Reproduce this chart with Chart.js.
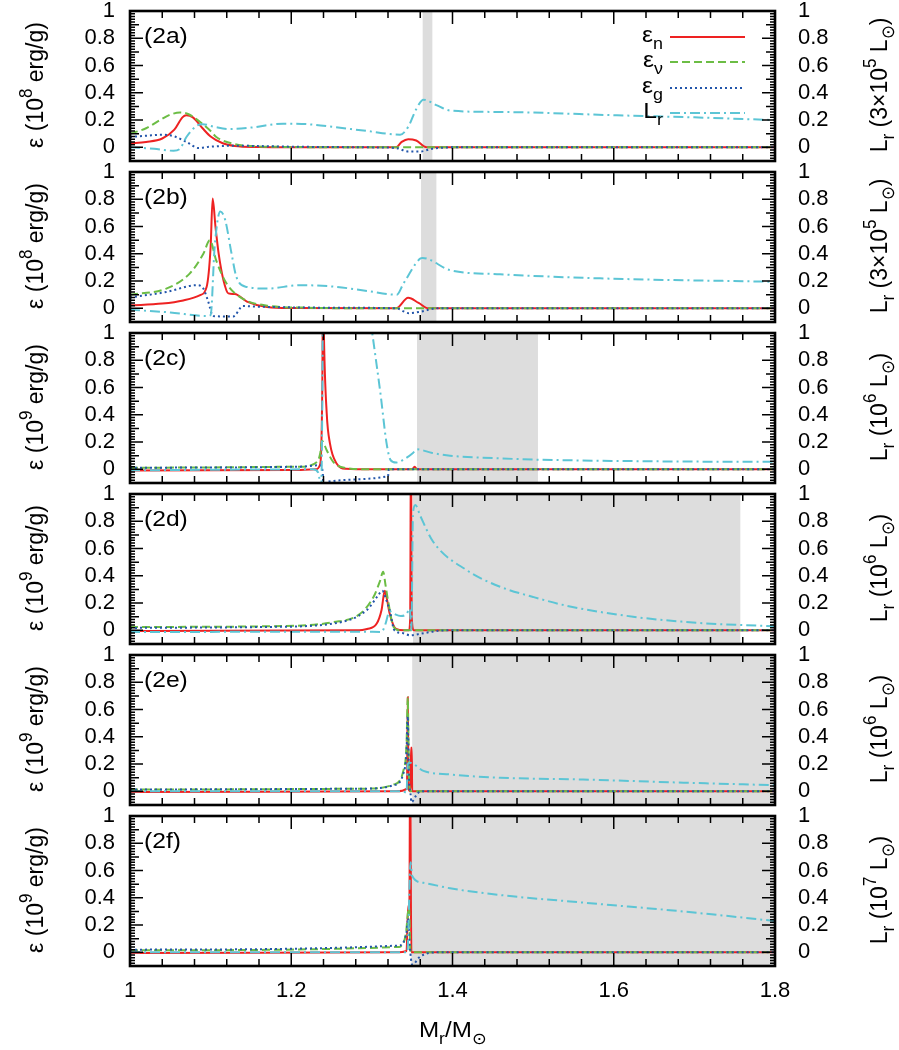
<!DOCTYPE html>
<html>
<head>
<meta charset="utf-8">
<script src="https://cdn.jsdelivr.net/npm/chart.js@4"></script>
<style>
  html, body { margin: 0; padding: 0; background: #fff; }
  #wrap { position: relative; width: 899px; height: 1050px; overflow: hidden; background: #fff; }
  #wrap canvas { position: absolute; left: 0; }
</style>
</head>
<body>
<div id="wrap"></div>
<script>
// ----- Data (x = Mr/Msun, y = value)
const en2a  = [[1.0,0.03],[1.02,0.04],[1.04,0.065],[1.055,0.13],[1.065,0.22],[1.07,0.235],[1.078,0.22],[1.09,0.14],[1.10,0.08],[1.115,0.03],[1.13,0.01],[1.16,0.002],[1.2,0],[1.33,0],[1.337,0.04],[1.345,0.06],[1.355,0.05],[1.368,0],[1.8,0]];
const env2a = [[1.0,0.10],[1.02,0.14],[1.037,0.2],[1.05,0.24],[1.062,0.255],[1.072,0.245],[1.087,0.186],[1.1,0.12],[1.107,0.076],[1.128,0.027],[1.15,0.01],[1.2,0.003],[1.3,0],[1.8,0]];
const eg2a  = [[1.0,0.076],[1.02,0.085],[1.041,0.093],[1.055,0.08],[1.07,0.04],[1.085,-0.005],[1.1,0.005],[1.13,0.012],[1.2,0.005],[1.3,0],[1.33,-0.005],[1.345,-0.03],[1.36,-0.03],[1.375,-0.01],[1.4,0],[1.8,0]];
const lr2a  = [[1.0,0],[1.03,-0.01],[1.054,-0.025],[1.062,-0.01],[1.07,0.076],[1.083,0.16],[1.09,0.17],[1.105,0.15],[1.122,0.135],[1.15,0.145],[1.19,0.174],[1.22,0.17],[1.252,0.15],[1.294,0.12],[1.335,0.093],[1.345,0.15],[1.355,0.28],[1.364,0.35],[1.38,0.31],[1.397,0.27],[1.45,0.26],[1.5,0.255],[1.604,0.235],[1.7,0.22],[1.8,0.20]];

const en2b  = [[1.0,0.022],[1.04,0.035],[1.066,0.058],[1.087,0.097],[1.095,0.156],[1.1,0.45],[1.1025,0.806],[1.106,0.6],[1.11,0.40],[1.116,0.205],[1.122,0.11],[1.13,0.105],[1.145,0.05],[1.17,0.01],[1.2,0.002],[1.33,0],[1.345,0.077],[1.358,0.04],[1.37,0],[1.8,0]];
const env2b = [[1.0,0.10],[1.045,0.145],[1.074,0.255],[1.091,0.40],[1.099,0.50],[1.107,0.35],[1.12,0.18],[1.14,0.07],[1.17,0.02],[1.22,0.005],[1.3,0],[1.8,0]];
const eg2b  = [[1.0,0.08],[1.045,0.12],[1.083,0.17],[1.091,0.145],[1.097,0.05],[1.103,-0.056],[1.128,-0.06],[1.14,0.017],[1.16,0.012],[1.25,0.005],[1.33,0],[1.346,-0.035],[1.36,-0.025],[1.38,0],[1.8,0]];
const lr2b  = [[1.0,-0.01],[1.05,-0.03],[1.095,-0.056],[1.1,-0.05],[1.105,0.45],[1.112,0.71],[1.118,0.65],[1.126,0.40],[1.132,0.23],[1.145,0.157],[1.17,0.145],[1.211,0.17],[1.252,0.16],[1.294,0.128],[1.331,0.10],[1.339,0.18],[1.36,0.365],[1.363,0.37],[1.397,0.28],[1.459,0.25],[1.583,0.22],[1.8,0.195]];

const en2c  = [[1.0,-0.008],[1.2,-0.005],[1.23,0],[1.236,0.04],[1.2385,0.6],[1.2395,1.5],[1.2405,1.0],[1.244,0.41],[1.248,0.19],[1.256,0.045],[1.268,0.005],[1.3,0],[1.35,0],[1.353,0.02],[1.356,0],[1.8,0]];
const env2c = [[1.0,0.012],[1.211,0.02],[1.232,0.055],[1.236,0.12],[1.238,0.21],[1.244,0.14],[1.252,0.055],[1.268,0.01],[1.3,0],[1.8,0]];
const eg2c  = [[1.0,0.012],[1.211,0.02],[1.236,0.03],[1.239,-0.02],[1.2405,-0.2],[1.243,-0.093],[1.32,-0.05],[1.321,0],[1.8,0]];
const lr2c  = [[1.0,-0.007],[1.227,0],[1.234,-0.03],[1.237,-0.2],[1.2385,0.5],[1.2395,1.5],[1.26,2.2],[1.29,1.45],[1.30,1.02],[1.311,0.54],[1.318,0.2],[1.323,0.07],[1.33,0.05],[1.339,0.07],[1.351,0.12],[1.356,0.147],[1.375,0.12],[1.397,0.1],[1.45,0.083],[1.5,0.072],[1.6,0.062],[1.7,0.057],[1.8,0.055]];

const en2d  = [[1.0,-0.005],[1.28,0],[1.294,0.01],[1.306,0.05],[1.312,0.15],[1.316,0.29],[1.319,0.22],[1.322,0.125],[1.33,0.01],[1.34,0],[1.346,0],[1.3475,0.09],[1.3485,1.5],[1.3495,0.09],[1.352,0],[1.8,0]];
const env2d = [[1.0,0.025],[1.17,0.03],[1.252,0.06],[1.285,0.12],[1.302,0.245],[1.31,0.36],[1.314,0.43],[1.317,0.33],[1.32,0.22],[1.327,0.025],[1.335,0],[1.8,0]];
const eg2d  = [[1.0,0.018],[1.17,0.025],[1.252,0.05],[1.294,0.15],[1.307,0.25],[1.313,0.29],[1.318,0.22],[1.322,0.15],[1.328,0],[1.338,-0.02],[1.348,-0.037],[1.36,-0.025],[1.375,-0.01],[1.39,0],[1.8,0]];
const lr2d  = [[1.0,-0.012],[1.29,-0.01],[1.312,-0.012],[1.317,0.05],[1.322,0.14],[1.328,0.12],[1.336,0.105],[1.343,0.12],[1.347,0.16],[1.349,0.0],[1.351,0.86],[1.354,0.92],[1.36,0.84],[1.376,0.65],[1.418,0.44],[1.459,0.32],[1.5,0.245],[1.542,0.18],[1.624,0.10],[1.707,0.054],[1.8,0.03]];

const en2e  = [[1.0,-0.005],[1.33,0],[1.3435,0.02],[1.3445,0.69],[1.3455,0.02],[1.348,0],[1.3485,0.32],[1.3495,0.32],[1.35,0],[1.8,0]];
const env2e = [[1.0,0.013],[1.294,0.02],[1.327,0.05],[1.339,0.15],[1.343,0.35],[1.3445,0.69],[1.346,0.1],[1.348,0],[1.8,0]];
const eg2e  = [[1.0,0.014],[1.294,0.02],[1.327,0.045],[1.339,0.13],[1.343,0.3],[1.3445,0.55],[1.346,0.1],[1.348,-0.02],[1.349,-0.08],[1.355,-0.03],[1.36,0],[1.8,0]];
const lr2e  = [[1.0,0],[1.339,0],[1.343,-0.01],[1.3445,0.2],[1.347,0.21],[1.364,0.15],[1.397,0.124],[1.459,0.10],[1.562,0.087],[1.68,0.065],[1.8,0.045]];

const en2f  = [[1.0,-0.005],[1.33,0],[1.343,0.01],[1.345,0.34],[1.3465,0.34],[1.3475,1.5],[1.3485,0.3],[1.349,0],[1.8,0]];
const env2f = [[1.0,0.015],[1.334,0.04],[1.342,0.13],[1.346,0.33],[1.348,0],[1.8,0]];
const eg2f  = [[1.0,0.02],[1.334,0.05],[1.343,0.15],[1.345,0.25],[1.347,0.05],[1.35,-0.09],[1.36,-0.03],[1.38,0],[1.8,0]];
const lr2f  = [[1.0,0],[1.344,0],[1.348,0.66],[1.35,0.56],[1.364,0.51],[1.397,0.47],[1.46,0.42],[1.562,0.365],[1.686,0.30],[1.8,0.23]];

// convective (gray) zones per panel
const shadeStart = [1.363, 1.361, 1.356, 1.351, 1.350, 1.349];
const shadeEnd   = [1.375, 1.380, 1.506, 1.757, 1.8, 1.8];

const panelLabels = ['(2a)', '(2b)', '(2c)', '(2d)', '(2e)', '(2f)'];
const epsExp = ['8', '8', '9', '9', '9', '9'];
const lumPre = ['3×10', '3×10', '10', '10', '10', '10'];
const lumExp = ['5', '5', '6', '6', '6', '7'];

const xTicks = [1, 1.2, 1.4, 1.6, 1.8];
const yTicks = [0, 0.2, 0.4, 0.6, 0.8, 1];
const legendNames = [['ε', 'n'], ['ε', 'ν'], ['ε', 'g'], ['L', 'r']];

const series = [
    [en2a, env2a, eg2a, lr2a],
    [en2b, env2b, eg2b, lr2b],
    [en2c, env2c, eg2c, lr2c],
    [en2d, env2d, eg2d, lr2d],
    [en2e, env2e, eg2e, lr2e],
    [en2f, env2f, eg2f, lr2f]
];

// ----- Styles
const FONT = '"Liberation Sans", Arial, Helvetica, sans-serif';
const FS = 22;      // tick labels
const TS = 23;      // axis titles
const styles = [
    { color: '#ee2222', dash: [], order: 3 },          // eps_n
    { color: '#6cbd45', dash: [8, 4], order: 2 },      // eps_nu
    { color: '#2255aa', dash: [2, 3], order: 1 },      // eps_g
    { color: '#5cc5d5', dash: [10, 4, 2, 4], order: 0 } // L_r
];

// ----- Rich text (super/subscripts), sx = horizontal stretch on the page
function fontFor(s, size) { return ((s.sup || s.sub) ? Math.round(size * 0.74) : size) + 'px ' + FONT; }
function richWidth(ctx, segs, size) {
    let w = 0;
    for (const s of segs) { ctx.font = fontFor(s, size); w += ctx.measureText(s.t).width; }
    return w;
}
function drawRich(ctx, segs, x, y, align, rot, size, sx) {
    ctx.save();
    ctx.translate(x, y);
    ctx.scale(sx || 1, 1);
    if (rot) ctx.rotate(-Math.PI / 2);
    ctx.fillStyle = '#000';
    ctx.textBaseline = 'alphabetic';
    ctx.textAlign = 'left';
    const w = richWidth(ctx, segs, size);
    let cx = align === 'center' ? -w / 2 : align === 'right' ? -w : 0;
    for (const s of segs) {
        ctx.font = fontFor(s, size);
        const dy = s.sup ? -size * 0.45 : s.sub ? size * 0.3 : 0;
        ctx.fillText(s.t, cx, dy);
        cx += ctx.measureText(s.t).width;
    }
    ctx.restore();
}

// ----- Panel decorations: shading, inward tics, frame, labels, legend
const panelPlugin = {
    id: 'panel',
    beforeDatasetsDraw(chart, args, opts) {
        const i = opts.index, ca = chart.chartArea, xs = chart.scales.x;
        const ctx = chart.ctx;
        const x0 = xs.getPixelForValue(shadeStart[i]);
        const x1 = xs.getPixelForValue(shadeEnd[i]);
        ctx.save();
        ctx.fillStyle = '#dddddd';
        ctx.fillRect(x0, ca.top, x1 - x0, ca.bottom - ca.top);
        ctx.restore();
    },
    afterDatasetsDraw(chart, args, opts) {
        const i = opts.index, ca = chart.chartArea, ctx = chart.ctx;
        const xs = chart.scales.x, ys = chart.scales.y;
        ctx.save();
        ctx.strokeStyle = '#000';
        ctx.lineWidth = 1.5;
        ctx.beginPath();
        for (let k = 0; k <= 20; k++) {
            const px = xs.getPixelForValue(1 + k * 0.04);
            const len = k % 5 === 0 ? 13 : 7;
            ctx.moveTo(px, ca.bottom); ctx.lineTo(px, ca.bottom - len);
            ctx.moveTo(px, ca.top); ctx.lineTo(px, ca.top + len);
        }
        for (let k = -5; k <= 50; k++) {
            const py = ys.getPixelForValue(k * 0.02);
            const len = k % 10 === 0 ? 13 : (k % 5 === 0 ? 9 : 5);
            ctx.moveTo(ca.left, py); ctx.lineTo(ca.left + len, py);
            ctx.moveTo(ca.right, py); ctx.lineTo(ca.right - len, py);
        }
        ctx.stroke();
        ctx.lineWidth = 2.6;
        ctx.strokeRect(ca.left, ca.top, ca.right - ca.left, ca.bottom - ca.top);

        drawRich(ctx, [{ t: panelLabels[i] }], ca.left + 14, ca.top + 32, 'left', false, 22, 1.12);

        if (i === 0) {
            const rows = [26, 51, 77, 102];
            rows.forEach((r, k) => {
                const y = ca.top + r;
                drawRich(ctx, [{ t: legendNames[k][0] }, { t: legendNames[k][1], sub: 1 }],
                    ca.right - 112, y + 5, 'right', false, 22, 1.12);
                ctx.save();
                ctx.strokeStyle = styles[k].color;
                ctx.lineWidth = 2;
                ctx.setLineDash(styles[k].dash);
                ctx.beginPath();
                ctx.moveTo(ca.right - 105, y);
                ctx.lineTo(ca.right - 30, y);
                ctx.stroke();
                ctx.restore();
            });
        }
        ctx.restore();
    },
    afterDraw(chart, args, opts) {
        const i = opts.index, ca = chart.chartArea, ctx = chart.ctx;
        const cy = ca.top + 74;
        drawRich(ctx, [{ t: 'ε (10' }, { t: epsExp[i], sup: 1 }, { t: ' erg/g)' }], 43, cy, 'center', true, TS, 1.08);
        drawRich(ctx, [{ t: 'L' }, { t: 'r', sub: 1 }, { t: ' (' + lumPre[i] }, { t: lumExp[i], sup: 1 },
            { t: ' L' }, { t: '⊙', sub: 1 }, { t: ')' }], 887, cy, 'center', true, TS, 1.08);
        if (opts.last) {
            drawRich(ctx, [{ t: 'M' }, { t: 'r', sub: 1 }, { t: '/M' }, { t: '⊙', sub: 1 }],
                (ca.left + ca.right) / 2, ca.bottom + 71, 'center', false, 22, 1.1);
        }
    }
};

// ----- Build the six stacked panels
const wrap = document.getElementById('wrap');
const toXY = arr => arr.map(p => ({ x: p[0], y: p[1] }));
const noPad = s => { s.paddingTop = 0; s.paddingBottom = 0; s.paddingLeft = 0; s.paddingRight = 0; };

function makePanel(i) {
    const last = i === series.length - 1;
    const T = 11 + 161 * i;          // top of plot frame on the page
    const top = T - 15;
    const h = last ? 1050 - top : 180;
    const cv = document.createElement('canvas');
    cv.width = 899; cv.height = h;
    cv.style.top = top + 'px';
    cv.style.width = '899px'; cv.style.height = h + 'px';
    wrap.appendChild(cv);

    const tickFont = { family: FONT, size: FS };
    const datasets = series[i].map((d, k) => ({
        data: toXY(d),
        borderColor: styles[k].color,
        borderDash: styles[k].dash,
        borderWidth: 2,
        pointRadius: 0,
        fill: false,
        cubicInterpolationMode: 'monotone',
        yAxisID: k === 3 ? 'y2' : 'y',
        order: styles[k].order
    }));

    new Chart(cv, {
        type: 'line',
        data: { datasets },
        options: {
            responsive: false,
            animation: false,
            devicePixelRatio: 1,
            layout: { padding: { top: 15, left: 0, right: 0, bottom: 0 } },
            plugins: {
                legend: { display: false },
                tooltip: { enabled: false },
                panel: { index: i, last }
            },
            scales: {
                x: {
                    type: 'linear', min: 1, max: 1.8, position: 'bottom',
                    grid: { display: false, drawTicks: false },
                    border: { display: false },
                    afterBuildTicks: s => { s.ticks = xTicks.map(v => ({ value: v })); },
                    afterFit: s => { s.height = last ? h - 165 : 15; noPad(s); },
                    ticks: { display: last, color: '#000', font: tickFont, padding: 12, maxRotation: 0,
                        autoSkip: false, callback: v => String(v) }
                },
                y: {
                    type: 'linear', min: -0.1, max: 1, position: 'left',
                    grid: { display: false, drawTicks: false },
                    border: { display: false },
                    afterBuildTicks: s => { s.ticks = yTicks.map(v => ({ value: v })); },
                    afterFit: s => { s.width = 130; noPad(s); },
                    ticks: { color: '#000', font: tickFont, padding: 15, autoSkip: false, callback: v => String(v) }
                },
                y2: {
                    type: 'linear', min: -0.1, max: 1, position: 'right',
                    grid: { display: false, drawTicks: false },
                    border: { display: false },
                    afterBuildTicks: s => { s.ticks = yTicks.map(v => ({ value: v })); },
                    afterFit: s => { s.width = 124; noPad(s); },
                    ticks: { color: '#000', font: tickFont, padding: 23, autoSkip: false, callback: v => String(v) }
                }
            }
        },
        plugins: [panelPlugin]
    });
}

series.forEach((_, i) => makePanel(i));
</script>
</body>
</html>
